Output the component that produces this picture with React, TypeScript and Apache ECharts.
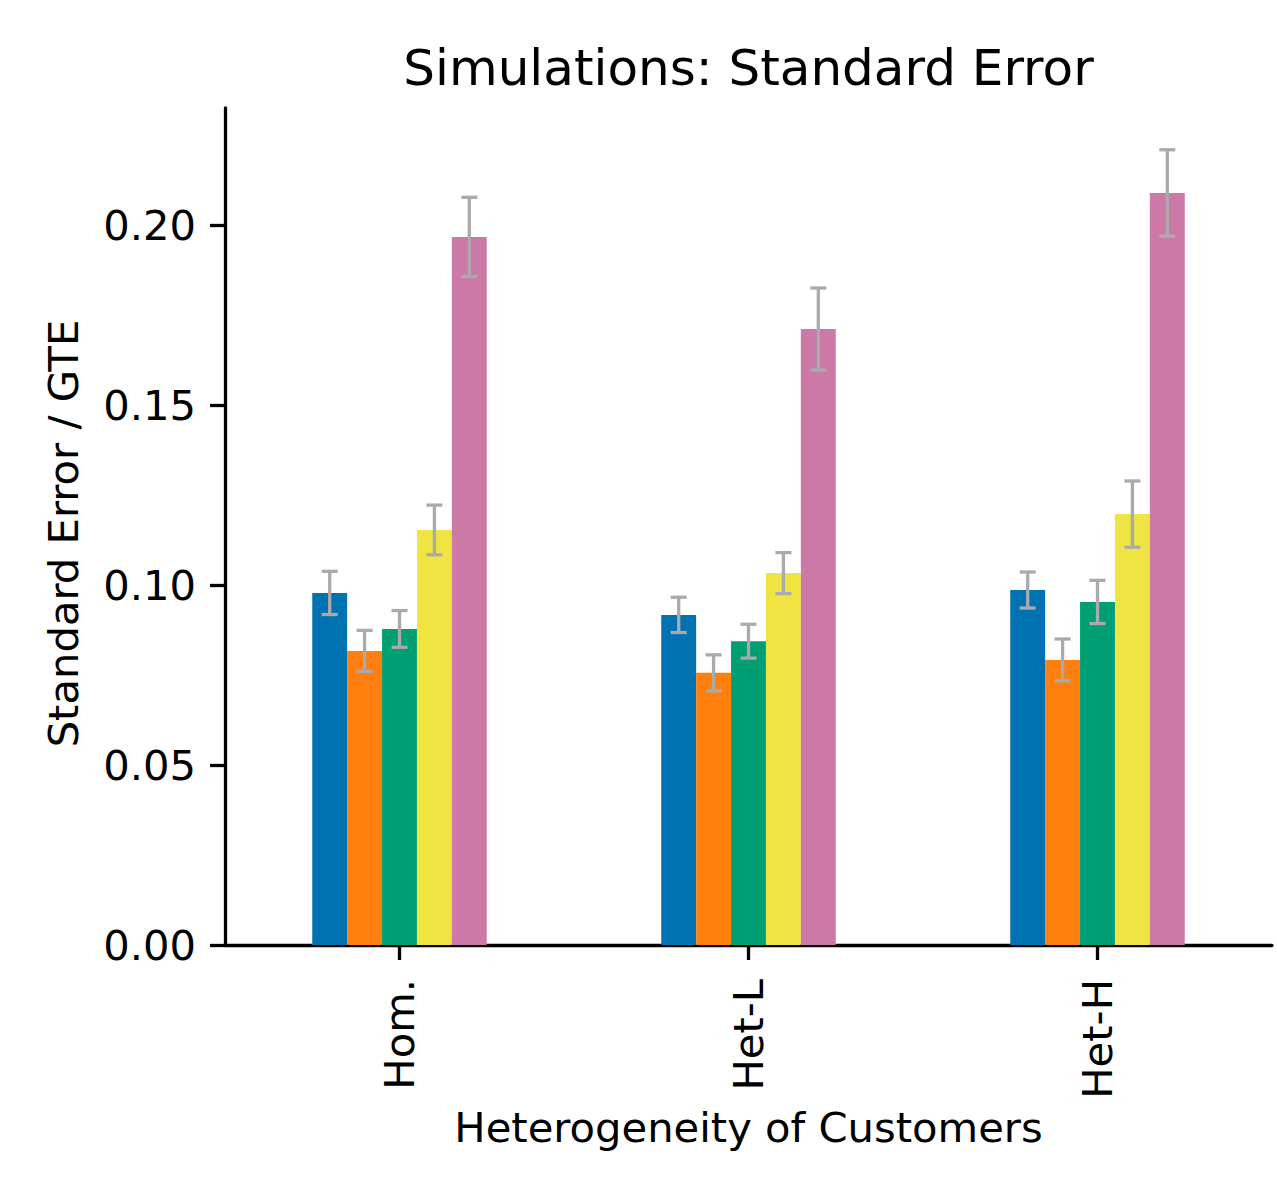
import React, { useEffect, useRef } from "react";
import * as echarts from "echarts";

const categories = ["Hom.", "Het-L", "Het-H"];
const seriesNames = ["Method 1", "Method 2", "Method 3", "Method 4", "Method 5"];
const seriesColors = ["#0072B2", "#FF7F0E", "#009E73", "#F0E442", "#CC79A7"];
const values1 = [0.0978, 0.0917, 0.0986];
const values2 = [0.0817, 0.0756, 0.0792];
const values3 = [0.0878, 0.0844, 0.0953];
const values4 = [0.1153, 0.1033, 0.1197];
const values5 = [0.1967, 0.1711, 0.2089];
const errors1 = [0.006, 0.0049, 0.005];
const errors2 = [0.0057, 0.005, 0.0058];
const errors3 = [0.0051, 0.0047, 0.006];
const errors4 = [0.0069, 0.0057, 0.0092];
const errors5 = [0.011, 0.0114, 0.012];
const yTicks = [0, 0.05, 0.1, 0.15, 0.2];

const allValues = [values1, values2, values3, values4, values5];
const allErrors = [errors1, errors2, errors3, errors4, errors5];

const FONT = "DejaVu Sans";

export default function App() {
  const ref = useRef<HTMLDivElement>(null);
  useEffect(() => {
    document.body.style.margin = "0";
    if (!ref.current) return;
    const chart = echarts.init(ref.current, null, { renderer: "svg" });
    const nSeries = allValues.length;
    const errData: number[][] = [];
    allValues.forEach((vals, i) => {
      vals.forEach((v, j) => {
        errData.push([j, v - allErrors[i][j], v + allErrors[i][j], i]);
      });
    });
    const barSeries = allValues.map((vals, i) => ({
      type: "bar",
      name: seriesNames[i],
      data: vals,
      barWidth: "10%",
      barGap: "0%",
      itemStyle: { color: seriesColors[i] },
      z: 2,
    }));
    const errStyle = { stroke: "#aaaaaa", lineWidth: 3.3 };
    const option = {
      animation: false,
      graphic: [
        {
          type: "text",
          x: 748.5,
          y: 68,
          style: {
            text: "Simulations: Standard Error",
            font: `50px "${FONT}"`,
            fill: "#000",
            textAlign: "center",
            textVerticalAlign: "middle",
          },
        },
      ],
      grid: { left: 225, right: 5, top: 108, bottom: 253 },
      xAxis: {
        type: "category",
        data: categories,
        name: "Heterogeneity of Customers",
        nameLocation: "middle",
        nameGap: 160,
        nameTextStyle: { fontFamily: FONT, fontSize: 41.7, color: "#000" },
        axisLine: { show: true, lineStyle: { color: "#000", width: 3.3 } },
        axisTick: {
          show: true,
          alignWithLabel: true,
          length: 15,
          lineStyle: { color: "#000", width: 3.3 },
        },
        axisLabel: {
          rotate: 90,
          margin: 34,
          fontFamily: FONT,
          fontSize: 41.7,
          color: "#000",
        },
        splitLine: { show: false },
      },
      yAxis: {
        type: "value",
        min: 0,
        max: 0.2325,
        interval: 0.05,
        name: "Standard Error / GTE",
        nameLocation: "middle",
        nameGap: 141,
        nameTextStyle: {
          fontFamily: FONT,
          fontSize: 41.7,
          color: "#000",
          padding: [0, 14, 0, 0],
        },
        axisLine: { show: true, lineStyle: { color: "#000", width: 3.3 } },
        axisTick: {
          show: true,
          length: 15,
          customValues: yTicks,
          lineStyle: { color: "#000", width: 3.3 },
        },
        axisLabel: {
          margin: 29,
          customValues: yTicks,
          formatter: (v: number) => v.toFixed(2),
          fontFamily: FONT,
          fontSize: 41.7,
          color: "#000",
        },
        splitLine: { show: false },
      },
      series: [
        ...barSeries,
        {
          type: "custom",
          name: "errors",
          z: 5,
          encode: { x: 0, y: [1, 2] },
          data: errData,
          renderItem: (params: any, api: any) => {
            const j = api.value(0);
            const i = api.value(3);
            const lo = api.coord([j, api.value(1)]);
            const hi = api.coord([j, api.value(2)]);
            const bw = api.size([1, 0])[0];
            const x = lo[0] + (i - (nSeries - 1) / 2) * (bw / 10);
            const cap = 8;
            return {
              type: "group",
              children: [
                { type: "line", shape: { x1: x, y1: lo[1], x2: x, y2: hi[1] }, style: errStyle },
                { type: "line", shape: { x1: x - cap, y1: hi[1], x2: x + cap, y2: hi[1] }, style: errStyle },
                { type: "line", shape: { x1: x - cap, y1: lo[1], x2: x + cap, y2: lo[1] }, style: errStyle },
              ],
            };
          },
        },
      ],
    };
    chart.setOption(option as any);
    return () => chart.dispose();
  }, []);
  return <div ref={ref} style={{ width: 1277, height: 1198 }} />;
}
